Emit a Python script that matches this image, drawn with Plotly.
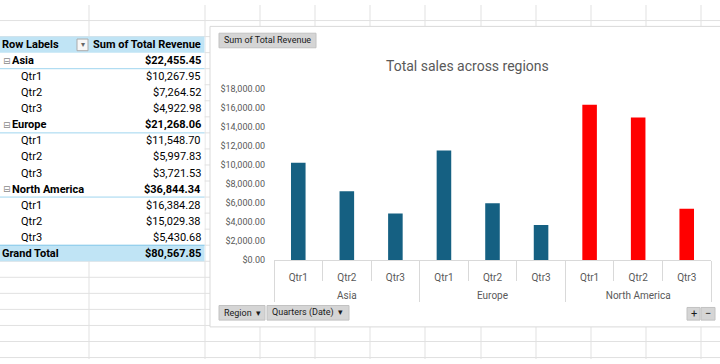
import plotly.graph_objects as go

W, H = 720, 364

# ---------------- data ----------------
regions = ["Asia", "Europe", "North America"]
quarters = ["Qtr1", "Qtr2", "Qtr3"]
asia_revenue = [10267.95, 7264.52, 4922.98]
europe_revenue = [11548.70, 5997.83, 3721.53]
north_america_revenue = [16384.28, 15029.38, 5430.68]
region_colors = ["#156082", "#156082", "#FF0000"]
y_tick_values = [0, 2000, 4000, 6000, 8000, 10000, 12000, 14000, 16000, 18000]

revenue_by_region = [asia_revenue, europe_revenue, north_america_revenue]


def px(x):
    return x / W


def py(y):
    return 1 - y / H


def fmt(v):
    return f"${v:,.2f}"


TABLE_FONT = "Roboto"
CHART_FONT = "Roboto"
GRID = "#E1E1E1"

shapes = []
annotations = []

# ---------------- worksheet grid ----------------
col_lines = [89, 205, 260, 315, 370, 425, 481, 536, 591, 646, 701]
for x in col_lines:
    shapes.append(dict(type="line", xref="paper", yref="paper", x0=px(x), x1=px(x),
                       y0=0, y1=1, line=dict(color=GRID, width=1), layer="below"))
y = 16.0
while y < H:
    shapes.append(dict(type="line", xref="paper", yref="paper", x0=0, x1=1,
                       y0=py(y), y1=py(y), line=dict(color=GRID, width=1), layer="below"))
    y += 16.5

# ---------------- pivot table ----------------
ROW_H = 16.5
TOP = 32.5
n_rows = 1 + len(regions) * (1 + len(quarters)) + 1
bottom = TOP + n_rows * ROW_H
shapes.append(dict(type="rect", xref="paper", yref="paper", x0=0, x1=px(204.5),
                   y0=py(TOP + 0.5), y1=py(bottom - 0.5), fillcolor="white",
                   line=dict(width=0), layer="below"))
# header band
shapes.append(dict(type="rect", xref="paper", yref="paper", x0=0, x1=px(204.5),
                   y0=py(TOP), y1=py(TOP + ROW_H), fillcolor="#C0E4F5",
                   line=dict(width=0), layer="below"))
# grand total band
shapes.append(dict(type="rect", xref="paper", yref="paper", x0=0, x1=px(204.5),
                   y0=py(bottom - ROW_H), y1=py(bottom), fillcolor="#C0E4F5",
                   line=dict(width=0), layer="below"))
shapes.append(dict(type="line", xref="paper", yref="paper", x0=0, x1=px(204.5),
                   y0=py(bottom - ROW_H), y1=py(bottom - ROW_H),
                   line=dict(color="#7FC6E8", width=1), layer="below"))
# header filter button
shapes.append(dict(type="rect", xref="paper", yref="paper", x0=px(77), x1=px(88),
                   y0=py(35), y1=py(47), fillcolor="#F7F7F7",
                   line=dict(color="#ABABAB", width=1), layer="below"))


def cell_text(x, yc, text, anchor="left", bold=False, color="#000000", size=11, family=None):
    annotations.append(dict(xref="paper", yref="paper", x=px(x), y=py(yc), text=text,
                            showarrow=False, xanchor=anchor, yanchor="middle",
                            font=dict(family=family or TABLE_FONT, size=size, color=color,
                                      weight="bold" if bold else "normal")))


def row_center(i):
    return TOP + ROW_H * i + ROW_H / 2


cell_text(0, row_center(0), "Row Labels", bold=True)
cell_text(82.5, row_center(0), "▾", anchor="center", color="#666666", size=8)
cell_text(203, row_center(0), "Sum of Total Revenue", anchor="right", bold=True)

r = 1
for reg, vals in zip(regions, revenue_by_region):
    yc = row_center(r)
    cell_text(1, yc, "⊟", color="#8A8A8A", size=9, family="DejaVu Sans")
    cell_text(10, yc, reg, bold=True)
    cell_text(203, yc, fmt(sum(vals)), anchor="right", bold=True)
    shapes.append(dict(type="line", xref="paper", yref="paper", x0=0, x1=px(204.5),
                       y0=py(TOP + ROW_H * (r + 1)), y1=py(TOP + ROW_H * (r + 1)),
                       line=dict(color="#9FD5EF", width=1), layer="below"))
    r += 1
    for q, v in zip(quarters, vals):
        yc = row_center(r)
        cell_text(19, yc, q)
        cell_text(203, yc, fmt(v), anchor="right")
        r += 1
grand_total = sum(sum(v) for v in revenue_by_region)
cell_text(0, row_center(r), "Grand Total", bold=True)
cell_text(203, row_center(r), fmt(grand_total), anchor="right", bold=True)

# ---------------- chart area ----------------
shapes.append(dict(type="rect", xref="paper", yref="paper", x0=px(210), x1=px(730),
                   y0=py(331), y1=py(22), fillcolor="white",
                   line=dict(color="#D9D9D9", width=1), layer="below"))


def button(x0, x1, y0, y1, text, tx, size=9, anchor="left"):
    shapes.append(dict(type="rect", xref="paper", yref="paper", x0=px(x0), x1=px(x1),
                       y0=py(y1), y1=py(y0), fillcolor="#D5D5D5",
                       line=dict(color="#C2C2C2", width=1), layer="below"))
    annotations.append(dict(xref="paper", yref="paper", x=px(tx), y=py((y0 + y1) / 2),
                            text=text, showarrow=False, xanchor=anchor, yanchor="middle",
                            font=dict(family=CHART_FONT, size=size, color="#1A1A1A")))


button(219, 316, 29, 44, "Sum of Total Revenue", 222)
button(219, 265, 309, 324, "Region  ▾", 222)
button(267, 349, 309, 324, "Quarters (Date)  ▾", 270)
button(687, 700, 311, 324, "+", 693.5, size=11, anchor="center")
button(701, 715, 311, 324, "−", 708, size=11, anchor="center")

annotations.append(dict(xref="paper", yref="paper", x=px(467), y=py(63),
                        text="Total sales across regions", showarrow=False,
                        xanchor="center", yanchor="middle",
                        font=dict(family=CHART_FONT, size=14, color="#595959")))

# ---------------- bars ----------------
# outer (region) level labels get a leading blank line so they sit in Excel's second row
x_outer = ["<br>" + reg for reg in regions for q in quarters]
x_inner = [q for reg in regions for q in quarters]
y_vals = [v for vals in revenue_by_region for v in vals]
bar_colors = [c for c in region_colors for q in quarters]

fig = go.Figure(go.Bar(x=[x_outer, x_inner], y=y_vals,
                       marker=dict(color=bar_colors, line=dict(width=0)),
                       hoverinfo="skip"))

fig.update_layout(
    width=W, height=H, autosize=False,
    margin=dict(l=0, r=0, t=0, b=0),
    paper_bgcolor="white", plot_bgcolor="rgba(0,0,0,0)",
    showlegend=False, bargap=0.7,
    shapes=shapes, annotations=annotations,
    xaxis=dict(domain=[px(274), px(711)], type="multicategory",
               showline=True, linecolor="#D9D9D9", linewidth=1,
               ticks="outside", tickson="boundaries", ticklen=20, tickcolor="#D9D9D9",
               showdividers=True, dividercolor="#D9D9D9", dividerwidth=1,
               ticklabelstandoff=8,
               tickfont=dict(family=CHART_FONT, size=10, color="#595959"),
               showgrid=False, zeroline=False),
    yaxis=dict(domain=[py(262.5), py(86.7)], range=[0, 18000],
               tickvals=y_tick_values, tickformat="$,.2f",
               showgrid=False, zeroline=False, showline=False, ticks="",
               ticklabelstandoff=8,
               tickfont=dict(family=CHART_FONT, size=9, color="#595959")),
)

fig.write_html("out.html", config={"displayModeBar": False},
               post_script="document.body.style.margin='0px';")
